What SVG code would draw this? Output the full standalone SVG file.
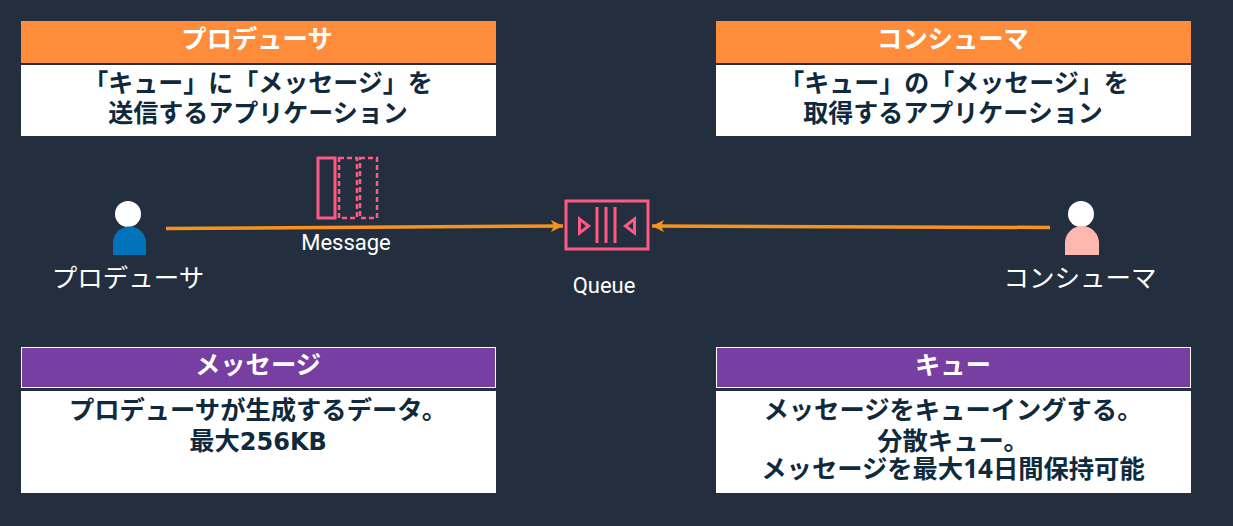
<svg xmlns="http://www.w3.org/2000/svg" width="1233" height="526" viewBox="0 0 1233 526">
<style>
text{font-family:"Noto Sans CJK JP","Noto Sans",sans-serif;text-anchor:middle}
.h{font-size:25.300px;font-weight:700;fill:#fff}
.b{font-size:25px;font-weight:700;fill:#0f2a3d}
.b2{font-size:25.300px;font-weight:700;fill:#0f2a3d}
.n{font-family:"Open Sans","Noto Sans",sans-serif;font-size:26px}
.n2{font-family:"DejaVu Sans",sans-serif;font-size:24px}
.l{font-size:25.500px;fill:#fff;font-weight:400}
.s{font-size:22px;fill:#fff;font-family:Roboto,"Noto Sans",sans-serif}
.or{fill:#ff8c3b}.pu{fill:#773fa2;stroke:#fff;stroke-width:1}.wh{fill:#fff}
.c{stroke:#f7931e;stroke-width:3.500;fill:none;marker-end:url(#a)}
.m{fill:none;stroke:#ff5a85;stroke-width:3}
.t{fill:#ff5a85;fill-rule:evenodd}
.d{stroke-width:2.500;stroke-dasharray:5 3}
</style>
<defs><marker id="a" markerUnits="userSpaceOnUse" markerWidth="13" markerHeight="14" refX="12" refY="7" orient="auto"><path d="M0 1L12 7L0 13L3 7Z" fill="#f7931e"/></marker></defs>
<rect width="1233" height="526" fill="#232f3e"/>
<g id="producer-card"><rect class="or" x="21" y="21" width="475" height="42"/><rect class="wh" x="21" y="65" width="475" height="71"/>
<text class="h" x="257" y="48">プロデューサ</text><text class="b" x="258" y="92">「キュー」に「メッセージ」を</text><text class="b" x="258" y="122">送信するアプリケーション</text></g>
<g id="consumer-card"><rect class="or" x="716" y="21" width="475" height="42"/><rect class="wh" x="716" y="65" width="475" height="71"/>
<text class="h" x="953" y="48">コンシューマ</text><text class="b" x="954" y="92">「キュー」の「メッセージ」を</text><text class="b" x="953" y="122">取得するアプリケーション</text></g>
<g id="message-card"><rect class="pu" x="21.500" y="347.500" width="474" height="40"/><rect class="wh" x="21" y="391" width="475" height="102"/>
<text class="h" x="258" y="374">メッセージ</text><text class="b2" x="258" y="419">プロデューサが生成するデータ。</text><text class="b2" x="258" y="450">最大<tspan class="n2">256KB</tspan></text></g>
<g id="queue-card"><rect class="pu" x="716.500" y="347.500" width="474" height="40"/><rect class="wh" x="716" y="391" width="475" height="102"/>
<text class="h" x="953" y="374">キュー</text><text class="b2" x="953" y="419">メッセージをキューイングする。</text><text class="b2" x="953" y="450">分散キュー。</text><text class="b2" x="953" y="478">メッセージを最大<tspan class="n">14</tspan>日間保持可能</text></g>
<g id="producer"><circle cx="128" cy="214" r="13" fill="#fff"/><path d="M113 255V243A16.500 16.500 0 0 1 146 243V255Z" fill="#0073bb"/><text class="l" x="128" y="287">プロデューサ</text></g>
<g id="consumer"><circle cx="1081" cy="214" r="13" fill="#fff"/><path d="M1065 255V243A17 17 0 0 1 1099 243V255Z" fill="#ffb8b0"/><text class="l" x="1080" y="287">コンシューマ</text></g>
<g id="message"><rect class="m" x="318" y="158" width="17" height="60"/><rect class="m d" x="339" y="158" width="18" height="60"/><rect class="m d" x="360" y="158" width="17" height="60"/><text class="s" x="346" y="250">Message</text></g>
<g id="queue"><rect class="m" x="566" y="201" width="82" height="48"/><path d="M597 207V243M606 207V243M615 207V243" class="m"/><path class="t" d="M578 216V236L591 226ZM581 222V230L586 226ZM636 216V236L623 226ZM633 222V230L628 226Z"/><text class="s" x="604" y="293">Queue</text></g>
<g id="connectors"><path class="c" d="M166 228.500L563 226"/><path class="c" d="M1050 227.500L652 226"/></g>
</svg>
